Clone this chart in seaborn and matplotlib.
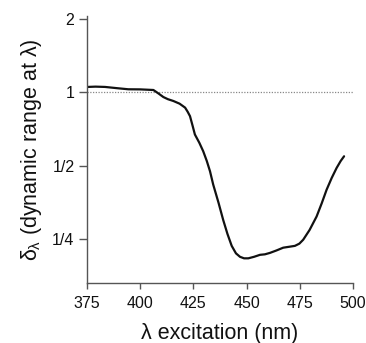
import matplotlib
matplotlib.use("Agg")
import matplotlib.pyplot as plt
import seaborn as sns
import pandas as pd
import numpy as np

wavelength = [375.3, 379.0, 383.5, 389.0, 394.4, 400.0, 406.2, 408.5, 410.9, 413.0,
              415.6, 418.5, 421.1, 422.3, 423.4, 424.6, 425.7, 427.8, 429.6, 431.3,
              432.8, 434.3, 436.8, 439.0, 441.0, 443.0, 445.0, 446.9, 448.8, 450.8,
              453.5, 456.3, 458.6, 461.0, 464.0, 467.2, 470.0, 472.7, 474.8, 476.6,
              479.6, 482.9, 485.3, 487.6, 490.0, 492.3, 494.2, 495.8]
delta = [1.052, 1.055, 1.052, 1.040, 1.029, 1.028, 1.022, 0.990, 0.956, 0.937,
         0.921, 0.898, 0.865, 0.832, 0.798, 0.730, 0.671, 0.620, 0.573, 0.522,
         0.474, 0.418, 0.352, 0.299, 0.262, 0.234, 0.218, 0.211, 0.208, 0.208,
         0.211, 0.215, 0.216, 0.219, 0.224, 0.230, 0.232, 0.234, 0.239, 0.248,
         0.272, 0.309, 0.350, 0.398, 0.445, 0.489, 0.522, 0.546]
x_ticks = [375, 400, 425, 450, 475, 500]
y_ticks = [0.25, 0.5, 1, 2]
y_ticklabels = ["1/4", "1/2", "1", "2"]

sns.set_style("ticks")
plt.rcParams["font.family"] = ["Liberation Sans", "DejaVu Sans"]
plt.rcParams["mathtext.fontset"] = "custom"
plt.rcParams["mathtext.rm"] = "Liberation Sans"
plt.rcParams["mathtext.it"] = "Liberation Sans"

df = pd.DataFrame({"wl": wavelength, "d": delta})

fig = plt.figure(figsize=(3.66, 3.43), dpi=100)
ax = fig.add_axes([87/366, 1-283/343, (353-87)/366, (283-16.4)/343])

ax.axhline(1, color="#888888", lw=0.9, ls=(0, (1, 1.2)), zorder=1)
sns.lineplot(data=df, x="wl", y="d", ax=ax, color="#111111", lw=1.6, zorder=2)
ax.lines[-1].set_solid_joinstyle("round")

ax.set_yscale("log", base=2)
ax.set_xlim(375, 500)
ax.set_ylim(0.1647, 2.05)
ax.set_yticks(y_ticks)
ax.set_yticklabels(y_ticklabels)
ax.minorticks_off()
ax.set_xticks(x_ticks)

for s in ["top", "right"]:
    ax.spines[s].set_visible(False)
for s in ["left", "bottom"]:
    ax.spines[s].set_color("#555555")
    ax.spines[s].set_linewidth(1.0)

ax.tick_params(axis="y", length=6, width=1, color="#555555", pad=3, labelsize=11.5, labelcolor="#111111")
ax.tick_params(axis="x", length=4.5, width=1, color="#555555", pad=4.5, labelsize=11.5, labelcolor="#111111")

ax.set_xlabel("λ excitation (nm)", fontsize=15.5, color="#111111", labelpad=9)
ax.set_ylabel(r"$\delta_{\lambda}$ (dynamic range at λ)", fontsize=15.5, color="#111111", labelpad=6)

fig.savefig("out.png", dpi=100)
